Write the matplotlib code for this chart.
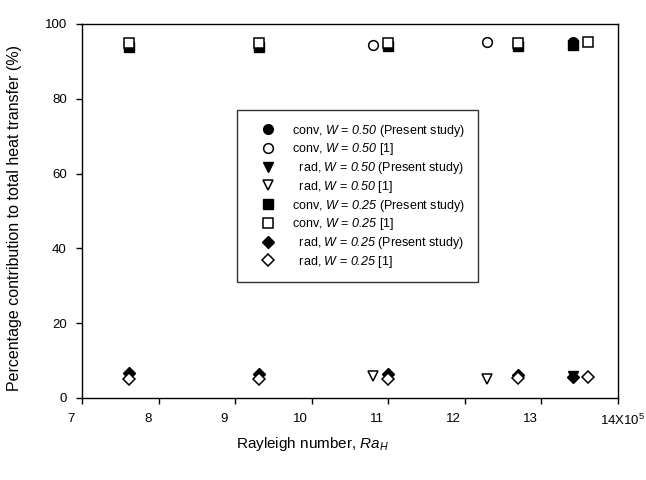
"""
对流/辐射换热贡献率随瑞利数变化的散点图
"""
import matplotlib
matplotlib.use('Agg')
import matplotlib.pyplot as plt
import matplotlib.transforms as mtransforms

plt.rcParams['font.family'] = ['Liberation Sans', 'DejaVu Sans']
plt.rcParams['mathtext.fontset'] = 'custom'
plt.rcParams['mathtext.rm'] = 'Liberation Sans'
plt.rcParams['mathtext.it'] = 'Liberation Sans:italic'
# 数字斜体用 sf 字体实现（mathtext 的 it 对数字会退回正体）
plt.rcParams['mathtext.sf'] = 'Liberation Sans:italic'

# 瑞利数 (x 10^5)
ra_present_w25 = [7.62, 9.31, 11.00, 12.70, 13.41]
ra_ref_w25 = [7.62, 9.31, 11.00, 12.70, 13.61]
ra_present_w50 = [13.41]
ra_ref_w50 = [10.80, 12.29]

# 百分比贡献 (%)
conv_w50_present = [95.2]
conv_w50_ref = [94.4, 95.2]
rad_w50_present = [6.0]
rad_w50_ref = [6.0, 5.0]
conv_w25_present = [93.8, 93.8, 94.0, 94.2, 94.3]
conv_w25_ref = [95.0, 95.0, 95.0, 95.0, 95.3]
rad_w25_present = [6.6, 6.5, 6.4, 6.2, 5.6]
rad_w25_ref = [5.1, 5.1, 5.2, 5.4, 5.5]

x_ticks = [7, 8, 9, 10, 11, 12, 13, 14]
y_ticks = [0, 20, 40, 60, 80, 100]

fig = plt.figure(figsize=(6.46, 4.80), dpi=100)
ax = fig.add_axes([82 / 646, 82 / 480, 536 / 646, 374 / 480])

filled = dict(color='black', linestyle='none', markersize=7)
hollow = dict(color='black', markerfacecolor='white', linestyle='none',
              markersize=7, markeredgewidth=1.1)

ax.plot(ra_present_w50, conv_w50_present, marker='o',
        label=r'conv, $W$ = $\mathsf{0.50}$ (Present study)', **filled)
ax.plot(ra_ref_w50, conv_w50_ref, marker='o',
        label=r'conv, $W$ = $\mathsf{0.50}$ [1]', **hollow)
ax.plot(ra_present_w50, rad_w50_present, marker='v',
        label=r'  rad, $W$ = $\mathsf{0.50}$ (Present study)', **filled)
ax.plot(ra_ref_w50, rad_w50_ref, marker='v',
        label=r'  rad, $W$ = $\mathsf{0.50}$ [1]', **hollow)
ax.plot(ra_present_w25, conv_w25_present, marker='s',
        label=r'conv, $W$ = $\mathsf{0.25}$ (Present study)', **filled)
ax.plot(ra_ref_w25, conv_w25_ref, marker='s',
        label=r'conv, $W$ = $\mathsf{0.25}$ [1]', **hollow)
ax.plot(ra_present_w25, rad_w25_present, marker='D',
        label=r'  rad, $W$ = $\mathsf{0.25}$ (Present study)',
        **{**filled, 'markersize': 6.5})
ax.plot(ra_ref_w25, rad_w25_ref, marker='D',
        label=r'  rad, $W$ = $\mathsf{0.25}$ [1]', **{**hollow, 'markersize': 6.5})

ax.set_xlim(7, 14)
ax.set_ylim(0, 100)
ax.set_xticks(x_ticks)
ax.set_yticks(y_ticks)
xt_labels = [str(t) for t in x_ticks]
xt_labels[-1] = r'14X10$^{5}$'
ax.set_xticklabels(xt_labels)
ax.tick_params(direction='out', length=4, width=1, labelsize=9.5,
               pad=7, colors='black')

# x 轴刻度标签整体左移
shift = mtransforms.ScaledTranslation(-11 / 100, 0, fig.dpi_scale_trans)
for lbl in ax.get_xticklabels():
    lbl.set_transform(lbl.get_transform() + shift)
last = ax.get_xticklabels()[-1]
last.set_horizontalalignment('left')
last.set_transform(last.get_transform()
                   + mtransforms.ScaledTranslation(-7 / 100, 0, fig.dpi_scale_trans))

for sp in ax.spines.values():
    sp.set_linewidth(1)
    sp.set_color('black')

ax.set_xlabel(r'Rayleigh number, $Ra_H$', fontsize=11)
ax.set_ylabel('Percentage contribution to total heat transfer (%)', fontsize=11.5)
ax.xaxis.set_label_coords(0.43, -0.10)
ax.yaxis.set_label_coords(-0.112, 0.48)

leg = ax.legend(loc='upper left', bbox_to_anchor=(0.289, 0.77), fontsize=9,
                frameon=True, fancybox=False, shadow=False, borderpad=1.0,
                handlelength=3.0, handletextpad=0.4, labelspacing=0.22,
                borderaxespad=0)
leg.get_frame().set_edgecolor('black')
leg.get_frame().set_linewidth(1)

fig.savefig('out.png', dpi=100)
